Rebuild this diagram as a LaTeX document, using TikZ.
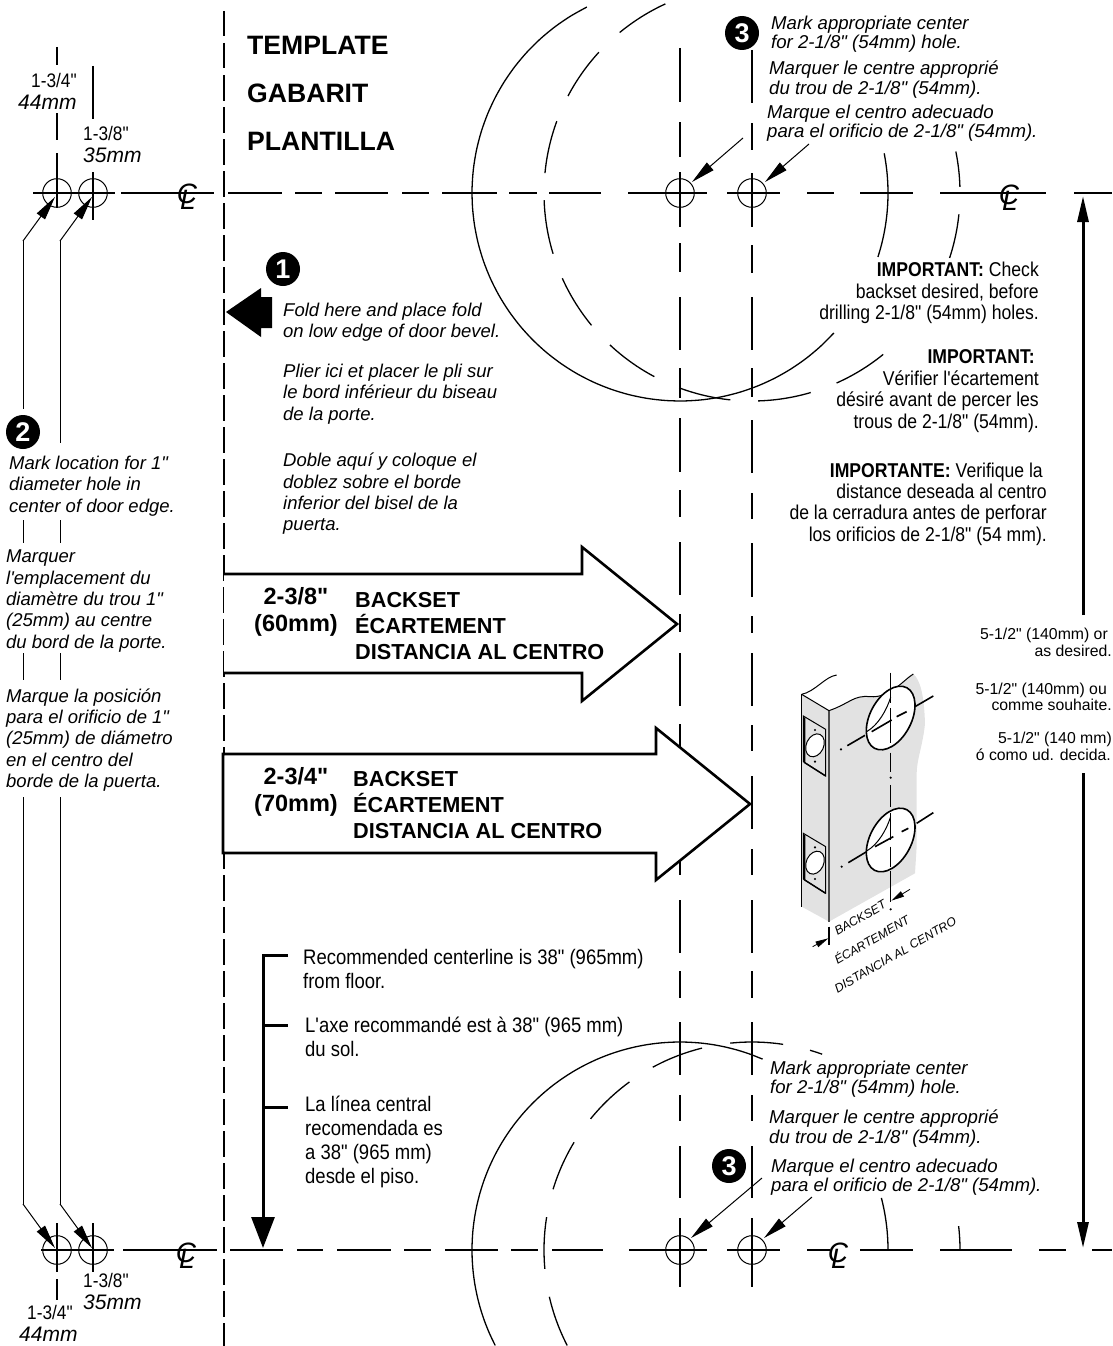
\documentclass[tikz,border=0pt]{standalone}
\usepackage{fontspec}
\newfontfamily\latinfont{Liberation Sans}
\newfontfamily\narrowfont[FakeStretch=0.88]{Liberation Sans}
\usetikzlibrary{arrows.meta,positioning,shapes}

\definecolor{doorgray}{HTML}{E2E2E2}

\newcommand{\holearc}[4]{\draw[arcline,domain=#3:#4,samples=40,smooth,variable=\t]
    plot ({#1+208*cos(\t)},{#2+208*sin(\t)});}
\newcommand{\clsym}{\makebox[0pt]{C}\makebox[0pt]{\hspace{2pt}\raisebox{-6.5pt}{L}}}

\tikzset{
  dashline/.style={line width=2pt},
  arcline/.style={line width=1.3pt},
  thinline/.style={line width=1pt},
  bigarrow/.style={line width=2.6pt,fill=white,line join=miter},
  leader/.style={line width=1pt,-{Triangle[length=24pt,width=10pt]}},
  numcircle/.style={circle,fill=black,text=white,inner sep=0pt,minimum size=34pt,
    font=\latinfont\fontsize{27}{27}\selectfont\bfseries},
  clmark/.style={inner sep=0pt,anchor=base,font=\latinfont\fontsize{28}{28}\selectfont\itshape},
  titletext/.style={inner sep=0pt,anchor=west,yshift=-1pt,font=\latinfont\fontsize{26.6}{26.6}\selectfont\bfseries},
  arrowtext/.style={inner sep=0pt,align=left,anchor=west,yshift=-1.5pt,font=\latinfont\fontsize{21.7}{26}\selectfont\bfseries},
  sizetext/.style={inner sep=0pt,align=center,yshift=-1pt,font=\latinfont\fontsize{23.5}{27}\selectfont\bfseries},
  note/.style={inner sep=0pt,align=left,anchor=west,yshift=-1pt,font=\latinfont\fontsize{18.5}{21.3}\selectfont\itshape},
  marknote/.style={inner sep=0pt,align=left,anchor=west,yshift=-1.5pt,font=\latinfont\fontsize{18.6}{19.2}\selectfont\itshape},
  warnnote/.style={inner sep=0pt,align=right,anchor=east,yshift=-2pt,font=\narrowfont\fontsize{20}{21.4}\selectfont},
  floornote/.style={inner sep=0pt,align=left,anchor=west,yshift=-1pt,font=\narrowfont\fontsize{21}{24}\selectfont},
  sizenote/.style={inner sep=0pt,align=right,anchor=east,yshift=-1pt,font=\latinfont\fontsize{15.8}{16.6}\selectfont},
  inchlabel/.style={inner sep=0pt,anchor=west,font=\narrowfont\fontsize{19.6}{20}\selectfont},
  mmlabel/.style={inner sep=0pt,anchor=west,font=\latinfont\fontsize{21}{21}\selectfont\itshape},
  doortext/.style={inner sep=0pt,anchor=base west,rotate=30,font=\latinfont\fontsize{12.3}{12.5}\selectfont\itshape}
}

\begin{document}
\begin{tikzpicture}[x=1pt,y=-1pt,>=Triangle]
  \useasboundingbox (0,0) rectangle (1112,1346);

  % hole centers
  \coordinate (holeA) at (680,193);
  \coordinate (holeB) at (752,193);
  \coordinate (holeC) at (680,1250);
  \coordinate (holeD) at (752,1250);
  \coordinate (edgeA) at (57,193);
  \coordinate (edgeB) at (93,193);
  \coordinate (edgeC) at (57,1250);
  \coordinate (edgeD) at (93,1250);

  % centerlines
  \foreach \a/\b in {33/115,121/214,228/282,295/322,335/388,402/429,442/497,509/537,
                     549/601,628/707,727/780,807/834,860/913,940/1046,1074/1112}
    \draw[dashline] (\a,193) -- (\b,193);
  \foreach \a/\b in {41/114,123/217,230/283,297/323,337/391,404/431,445/498,511/538,
                     552/603,629/707,727/780,807/830,860/913,940/1012,1039/1066,1092/1112}
    \draw[dashline] (\a,1250) -- (\b,1250);

  % fold line and backset lines
  \draw[dashline,dash pattern=on 25.5pt off 6.5pt] (224,11) -- (224,1346);
  \foreach \a/\b in {48/102,122/157,172/227,243/272,297/350,368/398,418/472,490/517,542/595,
                     614/632,653/706,724/780,849/875,900/953,971/998,1022/1075,1095/1121,
                     1146/1198,1218/1287}
    \draw[dashline] (680,\a) -- (680,\b);
  \foreach \a/\b in {50/103,123/150,173/227,245/273,297/350,368/397,420/473,493/519,543/597,
                     616/633,653/706,725/751,776/829,849/875,900/953,971/998,1022/1075,1095/1121,
                     1146/1198,1218/1287}
    \draw[dashline] (752,\a) -- (752,\b);
  \foreach \a/\b in {47/65,113/140,153/208,1223/1272,1279/1300}
    \draw[dashline] (57,\a) -- (57,\b);
  \foreach \a/\b in {66/119,172/220,1223/1272}
    \draw[dashline] (93,\a) -- (93,\b);

  % large hole outlines
  \holearc{680}{193}{42.3}{243.4}
  \holearc{680}{193}{-11}{17.9}
  \holearc{680}{1250}{152.7}{293.4}
  \holearc{680}{1250}{-14.5}{0}
  \foreach \a/\b in {-11.5/-1.7,5.9/18.2,50.9/66,73.6/88.3,96/110.5,118/133.1,140.5/155.8,
                     163/178,185.5/200.2,207.8/222.6,230.5/245.4}{
    \holearc{752}{193}{\a}{\b}
  }
  \foreach \a/\b in {-6.6/0,152.7/167,174.8/189.1,197/211.2,219.1/233.9,241.5/256.1,264/278.6,286.2/289.7}{
    \holearc{752}{1250}{\a}{\b}
  }

  % small hole circles
  \foreach \c in {holeA,holeB,holeC,holeD,edgeA,edgeB,edgeC,edgeD}
    \draw[thinline] (\c) circle (14.3);

  % left leaders
  \foreach \a/\b in {241/409,520/543,653/680,797/1204}{
    \draw[thinline] (23,\a) -- (23,\b);
    \draw[thinline] (60,\a) -- (60,\b);
  }
  \draw[thinline] (60,241) -- (60,443);
  \coordinate (bendA) at (23,241);
  \coordinate (bendB) at (60,241);
  \coordinate (bendC) at (23,1204);
  \coordinate (bendD) at (60,1204);
  \draw[leader] (bendA) -- (55,197);
  \draw[leader] (bendB) -- (92,197);
  \draw[leader] (bendC) -- (55,1248);
  \draw[leader] (bendD) -- (92,1248);

  % hole leaders
  \coordinate (tailA) at (743,138);
  \coordinate (tailB) at (809,144);
  \coordinate (tailC) at (762,1178);
  \coordinate (tailD) at (812,1197);
  \draw[leader] (tailA) -- (692,182);
  \draw[leader] (tailB) -- (765,182);
  \draw[leader] (tailC) -- (691,1238);
  \draw[leader] (tailD) -- (764,1238);

  % wide arrows
  \draw[bigarrow] (224,574) -- (582,574) -- (582,547) -- (677,624) -- (582,701) -- (582,673) -- (224,673);
  \draw[bigarrow] (223,754) -- (656,754) -- (656,728) -- (750,804) -- (656,880) -- (656,853) -- (223,853) -- cycle;

  % fold arrow
  \fill (226,312) -- (261,288) -- (261,297) -- (272,297) -- (272,328) -- (261,328) -- (261,337) -- cycle;

  % height arrows
  \coordinate (floorTop) at (263,955);
  \draw[line width=3pt,-{Triangle[length=31pt,width=23pt]}] (288,955) -- (floorTop) -- (263,1248);
  \draw[line width=3pt] (263,1025) -- (288,1025);
  \draw[line width=3pt] (263,1107) -- (288,1107);
  \draw[line width=3pt,-{Triangle[length=26pt,width=11pt]}] (1083,615) -- (1083,196);
  \draw[line width=3pt,-{Triangle[length=26pt,width=11pt]}] (1083,773) -- (1083,1248);

  % door
  \begin{scope}[shift={(760,660)},x=0.3333pt,y=-0.3333pt]
    \fill[doorgray] (125,103) -- (207,152) .. controls (270,130) and (280,105) .. (330,110)
      .. controls (390,115) and (430,60) .. (460,42)
      .. controls (480,60) and (492,100) .. (495,190) .. controls (490,250) and (470,300) .. (470,340)
      -- (470,560) -- (465,640) -- (207,785) -- (125,740) -- cycle;
    \draw[thinline] (125,103) .. controls (165,95) and (195,50) .. (230,45);
    \draw[thinline] (207,152) .. controls (270,130) and (280,105) .. (330,110)
      .. controls (390,115) and (430,60) .. (460,42);
    \draw[thinline] (125,103) -- (207,152);
    \draw[line width=1.4pt] (125,103) -- (125,740);
    \draw[line width=1.4pt,black!70] (207,152) -- (207,785);
    % faceplates
    \foreach \dy in {0,352}{
      \draw[thinline,fill=doorgray] (130,{168+\dy}) -- (197,{208+\dy}) -- (197,{348+\dy}) -- (130,{305+\dy}) -- cycle;
      \draw[line width=1.4pt] (134,{172+\dy}) -- (134,{308+\dy}) -- (197,{348+\dy});
      \draw[thinline,fill=white,rotate around={-25:(165,{256+\dy})}] (165,{256+\dy}) ellipse (26 and 36);
      \fill (165,{210+\dy}) circle (1.2pt);
      \fill (165,{305+\dy}) circle (1.2pt);
    }
    % door holes
    \foreach \dy/\ey in {0/174,358/540}{
      \draw[line width=1.6pt,fill=white,rotate around={-28:(392,\ey)}] (392,\ey) ellipse (62 and 103);
      \draw[thinline] (320,{215+\dy}) .. controls (355,{195+\dy}) and (380,{150+\dy}) .. (392,{112+\dy});
    }
    % door axis lines
    \foreach \a/\b in {38/128,145/250,278/335,375/440,460/540,560/620,632/725}
      \draw[dashline,line width=1.6pt] (392,\a) -- (392,\b);
    \fill (392,353) circle (1.2pt);
    \fill (392,748) circle (1.2pt);
    \foreach \xa/\ya/\xb/\yb in {262/257/315/226,335/215/395/180,410/170/440/155,465/140/520/108,
                                 265/608/320/575,345/560/400/530,425/515/445/505,470/490/520/458}
      \draw[dashline,line width=1.6pt] (\xa,\ya) -- (\xb,\yb);
    \fill (243,268) circle (1.2pt);
    \fill (245,620) circle (1.2pt);
    % backset dimension
    \draw[line width=1.6pt] (207,800) -- (207,855);
    \coordinate (dimA) at (158,860);
    \coordinate (dimB) at (450,688);
    \draw[line width=0.8pt,-{Triangle[length=13pt,width=6pt]}] (dimA) -- (205,835);
    \draw[line width=0.8pt,-{Triangle[length=13pt,width=6pt]}] (dimB) -- (394,722);
    \node[doortext] (doorback) at (232,828) {BACKSET};
    \node[doortext] (doorecar) at (232,915) {ÉCARTEMENT};
    \node[doortext] (doordist) at (232,1000) {DISTANCIA AL CENTRO};
  \end{scope}

  % centerline marks
  \node[clmark] (clA) at (187,203) {\clsym};
  \node[clmark] (clB) at (1009,204) {\clsym};
  \node[clmark] (clC) at (186,1262) {\clsym};
  \node[clmark] (clD) at (838,1262) {\clsym};

  % numbers
  \node[numcircle] (stepone) at (283,269) {1};
  \node[numcircle] (steptwo) at (23,432) {2};
  \node[numcircle] (stepthree) at (742,33) {3};
  \node[numcircle] (stepfour) at (729,1166) {3};

  % titles
  \node[titletext] (template) at (247,44) {TEMPLATE};
  \node[titletext] (gabarit) [below=47pt of template.west,anchor=west] {GABARIT};
  \node[titletext] (plantilla) [below=47pt of gabarit.west,anchor=west] {PLANTILLA};

  % size labels
  \node[inchlabel] (inA) at (31,80) {1-3/4"};
  \node[mmlabel] (mmA) at (18,102) {44mm};
  \node[inchlabel] (inB) at (83,133) {1-3/8"};
  \node[mmlabel] (mmB) at (83,155) {35mm};
  \node[inchlabel] (inC) at (83,1280) {1-3/8"};
  \node[mmlabel] (mmC) at (83,1302) {35mm};
  \node[inchlabel] (inD) at (27,1312) {1-3/4"};
  \node[mmlabel] (mmD) at (19,1334) {44mm};

  % left notes
  \node[note] (markedge) at (9,485) {Mark location for 1"\\diameter hole in\\center of door edge.};
  \node[note] (markfr) at (6,600) {Marquer\\l'emplacement du\\diamètre du trou 1"\\(25mm) au centre\\du bord de la porte.};
  \node[note] (markes) at (6,739) {Marque la posición\\para el orificio de 1"\\(25mm) de diámetro\\en el centro del\\borde de la puerta.};

  % fold notes
  \node[note] (folden) at (283,321) {Fold here and place fold\\on low edge of door bevel.};
  \node[note] (foldfr) at (283,393) {Plier ici et placer le pli sur\\le bord inférieur du biseau\\de la porte.};
  \node[note] (foldes) at (283,493) {Doble aquí y coloque el\\doblez sobre el borde\\inferior del bisel de la\\puerta.};

  % arrow texts
  \node[sizetext] (sizesixty) at (296,611) {2-3/8"\\(60mm)};
  \node[arrowtext] (textsixty) at (355,625) {BACKSET\\ÉCARTEMENT\\DISTANCIA AL CENTRO};
  \node[sizetext] (sizeseventy) at (296,791) {2-3/4"\\(70mm)};
  \node[arrowtext] (textseventy) at (353,804) {BACKSET\\ÉCARTEMENT\\DISTANCIA AL CENTRO};

  % floor notes
  \node[floornote] (flooren) at (303,968) {Recommended centerline is 38" (965mm)\\from floor.};
  \node[floornote] (floorfr) at (305,1036) {L'axe recommandé est à 38" (965 mm)\\du sol.};
  \node[floornote] (floores) at (305,1141) {La línea central\\recomendada es\\a 38" (965 mm)\\desde el piso.};

  % hole notes
  \node[marknote] (topen) at (771,33) {Mark appropriate center\\for 2-1/8" (54mm) hole.};
  \node[marknote] (topfr) at (769,78) {Marquer le centre approprié\\du trou de 2-1/8" (54mm).};
  \node[marknote] (topes) at (767,122) {Marque el centro adecuado\\para el orificio de 2-1/8" (54mm).};
  \node[marknote] (lowen) at (770,1078) {Mark appropriate center\\for 2-1/8" (54mm) hole.};
  \node[marknote] (lowfr) at (769,1127) {Marquer le centre approprié\\du trou de 2-1/8" (54mm).};
  \node[marknote] (lowes) at (771,1176) {Marque el centro adecuado\\para el orificio de 2-1/8" (54mm).};

  % warnings
  \node[warnnote] (warnen) at (1039,291) {\textbf{IMPORTANT:} Check\\backset desired, before\\drilling 2-1/8" (54mm) holes.};
  \node[warnnote] (warnfr) at (1039,389) {\textbf{IMPORTANT:}\hspace*{4pt}\\Vérifier l'écartement\hspace*{4pt}\\désiré avant de percer les\hspace*{4pt}\\trous de 2-1/8" (54mm).};
  \node[warnnote] (warnes) at (1047,502) {\textbf{IMPORTANTE:} Verifique la\hspace*{4pt}\\distance deseada al centro\hspace*{5pt}\\de la cerradura antes de perforar\hspace*{2pt}\\los orificios de 2-1/8" (54 mm).};

  % height notes
  \node[sizenote] (heighten) at (1112,641.5) {5-1/2" (140mm) or\hspace*{4pt}\\as desired.};
  \node[sizenote] (heightfr) at (1112,696) {5-1/2" (140mm) ou\hspace*{5pt}\\comme souhaite.};
  \node[sizenote] (heightes) at (1112,745.5) {5-1/2" (140 mm)\\ó como ud. decida.\hspace*{1pt}};
\end{tikzpicture}
\end{document}
